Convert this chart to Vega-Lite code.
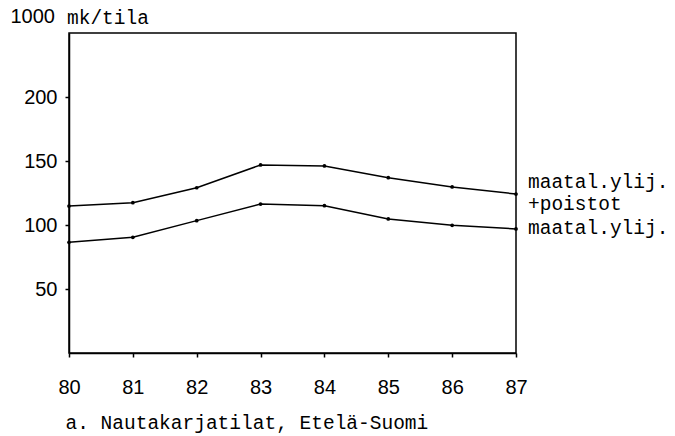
{
  "$schema": "https://vega.github.io/schema/vega-lite/v6.json",
  "width": 447,
  "height": 320,
  "autosize": "none",
  "padding": {"left": 69, "top": 33, "right": 159, "bottom": 83},
  "background": "white",
  "title": {
    "text": "mk/tila",
    "anchor": "start",
    "frame": "group",
    "dx": -2,
    "offset": -37,
    "baseline": "alphabetic",
    "font": "Liberation Mono",
    "fontSize": 19.5,
    "fontWeight": "normal",
    "color": "black"
  },
  "datasets": {
    "series": [
      {"year": 80, "series": "upper", "value": 114.8},
      {"year": 81, "series": "upper", "value": 117.4},
      {"year": 82, "series": "upper", "value": 129.1},
      {"year": 83, "series": "upper", "value": 146.9},
      {"year": 84, "series": "upper", "value": 146.1},
      {"year": 85, "series": "upper", "value": 137.0},
      {"year": 86, "series": "upper", "value": 129.7},
      {"year": 87, "series": "upper", "value": 124.2},
      {"year": 80, "series": "lower", "value": 86.5},
      {"year": 81, "series": "lower", "value": 90.4},
      {"year": 82, "series": "lower", "value": 103.4},
      {"year": 83, "series": "lower", "value": 116.4},
      {"year": 84, "series": "lower", "value": 115.1},
      {"year": 85, "series": "lower", "value": 104.7},
      {"year": 86, "series": "lower", "value": 99.8},
      {"year": 87, "series": "lower", "value": 96.9}
    ],
    "labels": [
      {"year": 87, "value": 133.6, "label": "maatal.ylij."},
      {"year": 87, "value": 116.4, "label": "+poistot"},
      {"year": 87, "value": 97.7, "label": "maatal.ylij."}
    ]
  },
  "encoding": {
    "x": {
      "field": "year",
      "type": "quantitative",
      "scale": {"domain": [80, 87], "nice": false, "zero": false},
      "axis": {
        "values": [80, 81, 82, 83, 84, 85, 86, 87],
        "format": "d",
        "grid": false,
        "title": "a. Nautakarjatilat, Etelä-Suomi",
        "titleFont": "Liberation Mono",
        "titleFontSize": 19.5,
        "titleFontWeight": "normal",
        "titleColor": "black",
        "titleAlign": "left",
        "titleBaseline": "middle",
        "titleX": -4,
        "titleY": 69,
        "labelFont": "Liberation Sans",
        "labelFontSize": 20,
        "labelColor": "black",
        "labelPadding": 20,
        "labelFlush": false,
        "tickSize": 4,
        "tickColor": "black",
        "tickWidth": 1.5,
        "domainColor": "black",
        "domainWidth": 1.5
      }
    },
    "y": {
      "field": "value",
      "type": "quantitative",
      "scale": {"domain": [0, 250], "nice": false},
      "axis": {
        "values": [50, 100, 150, 200],
        "grid": false,
        "title": "1000",
        "titleAngle": 0,
        "titleFont": "Liberation Sans",
        "titleFontSize": 20,
        "titleFontWeight": "normal",
        "titleColor": "black",
        "titleAlign": "left",
        "titleBaseline": "alphabetic",
        "titleX": -59,
        "titleY": -11,
        "labelFont": "Liberation Sans",
        "labelFontSize": 20,
        "labelColor": "black",
        "labelPadding": 8,
        "tickSize": 4,
        "tickColor": "black",
        "tickWidth": 1.5,
        "domainColor": "black",
        "domainWidth": 1.5
      }
    }
  },
  "layer": [
    {
      "data": {"name": "series"},
      "mark": {"type": "line", "color": "black", "strokeWidth": 1.5},
      "encoding": {"detail": {"field": "series"}}
    },
    {
      "data": {"name": "series"},
      "mark": {"type": "point", "filled": true, "color": "black", "size": 14, "opacity": 1},
      "encoding": {}
    },
    {
      "data": {"name": "labels"},
      "mark": {"type": "text", "align": "left", "baseline": "middle", "dx": 12, "font": "Liberation Mono", "fontSize": 19.5, "color": "black"},
      "encoding": {"text": {"field": "label"}}
    }
  ],
  "config": {
    "view": {"stroke": "black", "strokeWidth": 1.5}
  }
}
